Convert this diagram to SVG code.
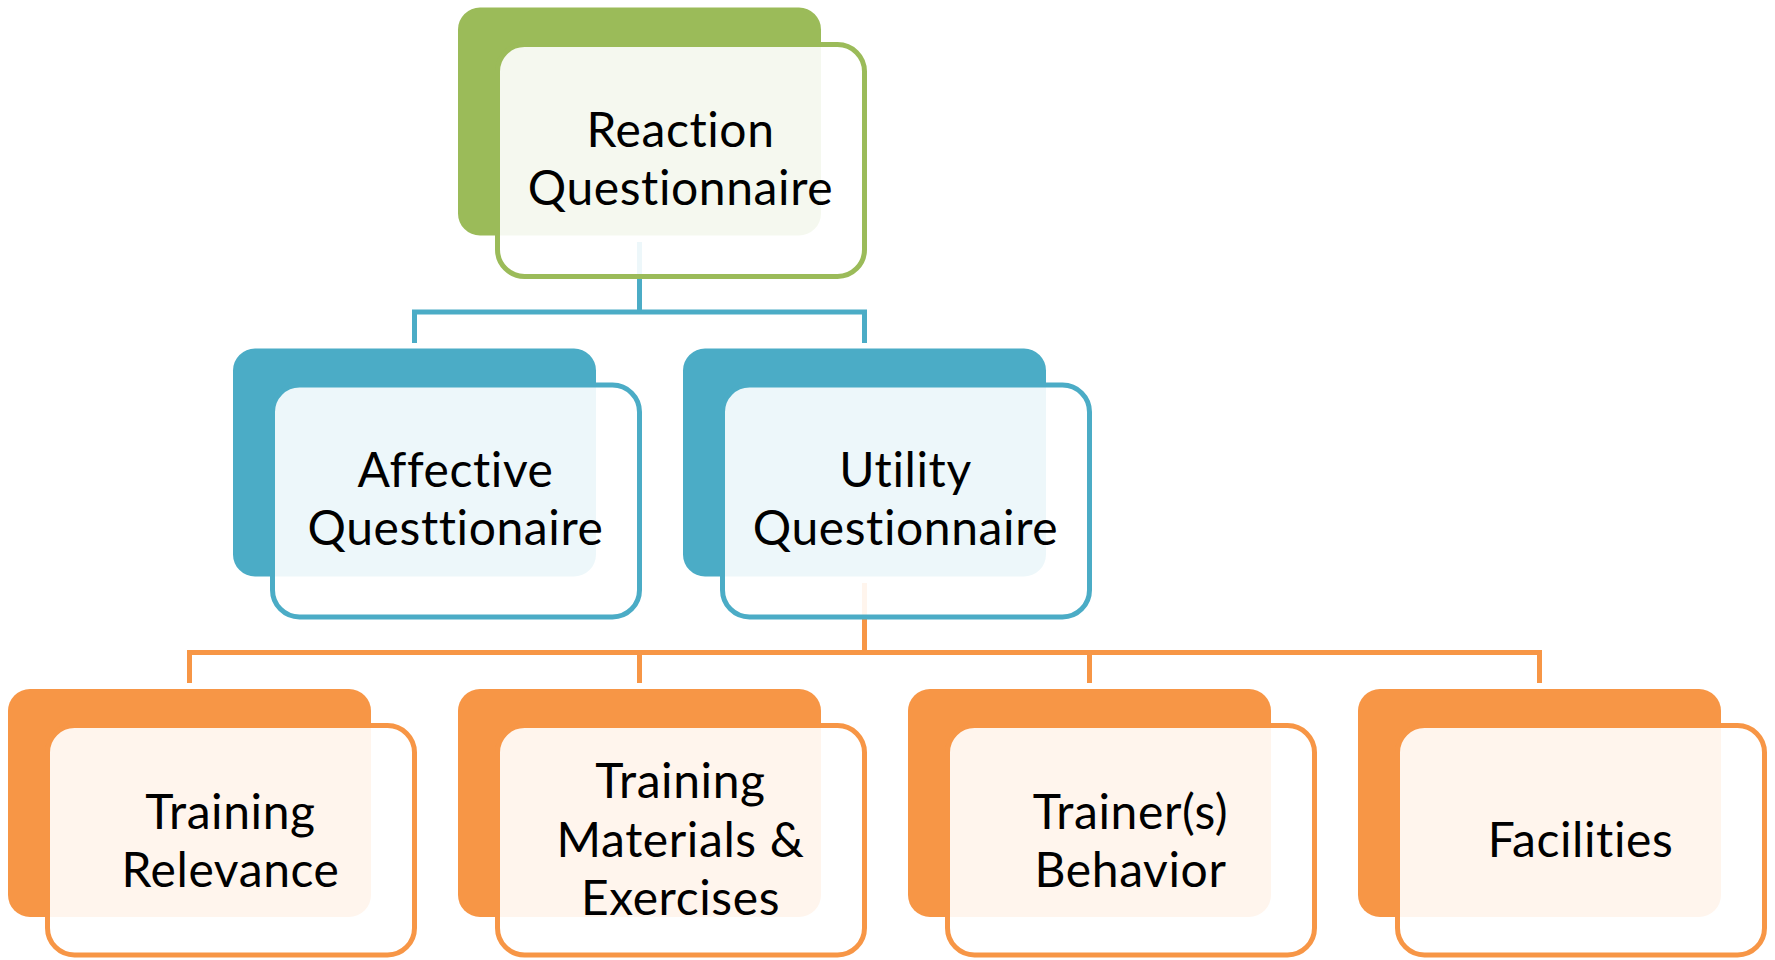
<svg xmlns="http://www.w3.org/2000/svg" width="1775" height="960" viewBox="0 0 1775 960">
<style>
.back{stroke:none}
.front{fill:#ffffff;fill-opacity:0.9;stroke-width:5}
.g .back{fill:#9BBB59}.g .front{stroke:#9BBB59}
.b .back{fill:#4BACC6}.b .front{stroke:#4BACC6}
.o .back{fill:#F79646}.o .front{stroke:#F79646}
.lbl{font-family:Lato,"Open Sans",sans-serif;font-size:48px;letter-spacing:0.6px;font-variant-ligatures:none;fill:#000;text-anchor:middle}
.conn{fill:none;stroke-width:5;stroke-linejoin:miter}
</style>
<rect width="1775" height="960" fill="#ffffff"/>
<g id="connectors">
  <path class="conn" stroke="#4BACC6" d="M414.5 343 V312 H864.5 V343 M639.5 242 V312"/>
  <path class="conn" stroke="#F79646" d="M189.5 683 V652.5 H1539.5 V683 M639.5 652.5 V683 M1089.5 652.5 V683 M864.5 583 V652.5"/>
</g>
<g id="node-reaction" class="g">
  <rect class="back" x="458" y="7.5" width="363" height="228" rx="22"/>
  <rect class="front" x="497.5" y="44.5" width="367" height="232" rx="27"/>
  <text class="lbl"><tspan x="680.5" y="147">Reaction</tspan><tspan x="680.5" y="204.5">Questionnaire</tspan></text>
</g>
<g id="node-affective" class="b">
  <rect class="back" x="233" y="348.5" width="363" height="228" rx="22"/>
  <rect class="front" x="272.5" y="385" width="367" height="232" rx="27"/>
  <text class="lbl"><tspan x="455.5" y="487">Affective</tspan><tspan x="455.5" y="545">Questtionaire</tspan></text>
</g>
<g id="node-utility" class="b">
  <rect class="back" x="683" y="348.5" width="363" height="228" rx="22"/>
  <rect class="front" x="722.5" y="385" width="367" height="232" rx="27"/>
  <text class="lbl"><tspan x="905.5" y="487">Utility</tspan><tspan x="905.5" y="545">Questionnaire</tspan></text>
</g>
<g id="node-relevance" class="o">
  <rect class="back" x="8" y="689" width="363" height="228" rx="22"/>
  <rect class="front" x="47.5" y="725.5" width="367" height="229.5" rx="27"/>
  <text class="lbl"><tspan x="230.5" y="828.5">Training</tspan><tspan x="230.5" y="886.5">Relevance</tspan></text>
</g>
<g id="node-materials" class="o">
  <rect class="back" x="458" y="689" width="363" height="228" rx="22"/>
  <rect class="front" x="497.5" y="725.5" width="367" height="229.5" rx="27"/>
  <text class="lbl"><tspan x="680.5" y="798">Training</tspan><tspan x="680.5" y="857">Materials &amp;</tspan><tspan x="680.5" y="915">Exercises</tspan></text>
</g>
<g id="node-trainer" class="o">
  <rect class="back" x="908" y="689" width="363" height="228" rx="22"/>
  <rect class="front" x="947.5" y="725.5" width="367" height="229.5" rx="27"/>
  <text class="lbl"><tspan x="1130.5" y="828.5">Trainer(s)</tspan><tspan x="1130.5" y="886.5">Behavior</tspan></text>
</g>
<g id="node-facilities" class="o">
  <rect class="back" x="1358" y="689" width="363" height="228" rx="22"/>
  <rect class="front" x="1397.5" y="725.5" width="367" height="229.5" rx="27"/>
  <text class="lbl"><tspan x="1580.5" y="857">Facilities</tspan></text>
</g>
</svg>
